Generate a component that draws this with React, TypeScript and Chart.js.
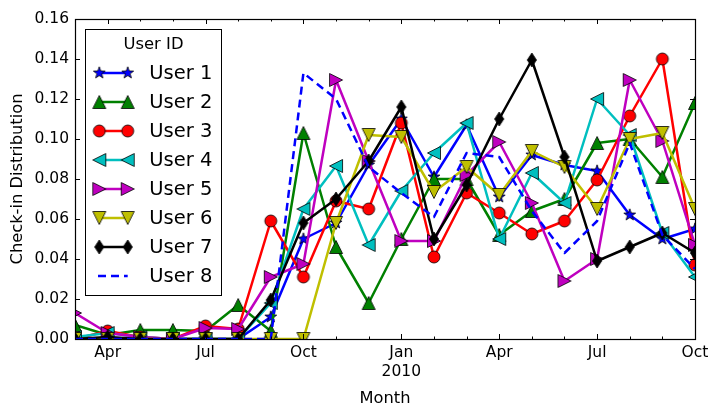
import React, { useEffect, useRef } from 'react';
import { Chart, registerables } from 'chart.js';

Chart.register(...registerables);

const FONT = "'DejaVu Sans', 'Liberation Sans', sans-serif";

// ---- data ----
const months = [
  'Mar 2009', 'Apr 2009', 'May 2009', 'Jun 2009', 'Jul 2009', 'Aug 2009', 'Sep 2009',
  'Oct 2009', 'Nov 2009', 'Dec 2009', 'Jan 2010', 'Feb 2010', 'Mar 2010', 'Apr 2010',
  'May 2010', 'Jun 2010', 'Jul 2010', 'Aug 2010', 'Sep 2010', 'Oct 2010',
];
const xTickLabels = [
  '', 'Apr', '', '', 'Jul', '', '', 'Oct', '', '', 'Jan\n2010', '', '', 'Apr', '', '', 'Jul', '', '', 'Oct',
];
const yTicks = [0, 0.02, 0.04, 0.06, 0.08, 0.1, 0.12, 0.14, 0.16];

const user1 = [0, 0, 0, 0, 0, 0, 0.011, 0.050, 0.058, 0.087, 0.110, 0.081, 0.107, 0.071, 0.092, 0.087, 0.084, 0.062, 0.050, 0.055];
const user2 = [0.007, 0.002, 0.0045, 0.0045, 0.004, 0.017, 0.004, 0.103, 0.046, 0.018, 0.050, 0.080, 0.080, 0.052, 0.064, 0.070, 0.098, 0.100, 0.081, 0.118];
const user3 = [0, 0.004, 0.001, 0, 0.0065, 0.005, 0.059, 0.031, 0.069, 0.065, 0.108, 0.041, 0.073, 0.063, 0.0525, 0.059, 0.0795, 0.1115, 0.140, 0.037];
const user4 = [0.001, 0.003, 0.001, 0, 0, 0, 0.018, 0.065, 0.0865, 0.047, 0.074, 0.093, 0.108, 0.050, 0.083, 0.068, 0.120, 0.102, 0.053, 0.031];
const user5 = [0.013, 0.003, 0.001, 0, 0.0055, 0.005, 0.031, 0.0375, 0.1295, 0.089, 0.049, 0.049, 0.082, 0.0985, 0.068, 0.029, 0.040, 0.1295, 0.099, 0.047];
const user6 = [0, 0, 0, 0, 0, 0, 0, 0, 0.058, 0.102, 0.101, 0.0735, 0.086, 0.072, 0.094, 0.086, 0.065, 0.100, 0.103, 0.065];
const user7 = [0, 0.001, 0, 0, 0, 0, 0.0195, 0.058, 0.070, 0.089, 0.116, 0.050, 0.077, 0.110, 0.1395, 0.091, 0.039, 0.046, 0.053, 0.043];
const user8 = [0, 0, 0, 0, 0, 0, 0, 0.133, 0.120, 0.086, 0.073, 0.061, 0.093, 0.091, 0.064, 0.043, 0.059, 0.098, 0.052, 0.035];

const seriesNames = ['User 1', 'User 2', 'User 3', 'User 4', 'User 5', 'User 6', 'User 7', 'User 8'];
const seriesValues = [user1, user2, user3, user4, user5, user6, user7, user8];
const seriesColors = ['#0000ff', '#008000', '#ff0000', '#00bfbf', '#bf00bf', '#bfbf00', '#000000', '#0000ff'];
const seriesMarkers = ['star', 'tri-up', 'circle', 'tri-left', 'tri-right', 'tri-down', 'diamond', 'none'];

// ---- markers ----
const MS = 20;
function makeMarker(shape: string, fill: string): HTMLCanvasElement | null {
  if (shape === 'none') return null;
  const c = document.createElement('canvas');
  c.width = MS;
  c.height = MS;
  const g = c.getContext('2d')!;
  g.translate(MS / 2, MS / 2);
  g.beginPath();
  const r = 6.5;
  if (shape === 'circle') {
    g.arc(0, 0, 6, 0, Math.PI * 2);
  } else if (shape === 'star') {
    const ro = 6.2, ri = 2.5;
    for (let k = 0; k < 10; k++) {
      const a = -Math.PI / 2 + (k * Math.PI) / 5;
      const rr = k % 2 === 0 ? ro : ri;
      const px = Math.cos(a) * rr, py = Math.sin(a) * rr;
      if (k === 0) g.moveTo(px, py); else g.lineTo(px, py);
    }
  } else if (shape === 'tri-up') {
    g.moveTo(0, -r); g.lineTo(-r, r); g.lineTo(r, r);
  } else if (shape === 'tri-down') {
    g.moveTo(0, r); g.lineTo(-r, -r); g.lineTo(r, -r);
  } else if (shape === 'tri-left') {
    g.moveTo(-r, 0); g.lineTo(r, -r); g.lineTo(r, r);
  } else if (shape === 'tri-right') {
    g.moveTo(r, 0); g.lineTo(-r, -r); g.lineTo(-r, r);
  } else if (shape === 'diamond') {
    g.moveTo(0, -7); g.lineTo(4.6, 0); g.lineTo(0, 7); g.lineTo(-4.6, 0);
  }
  g.closePath();
  g.fillStyle = fill;
  g.fill();
  g.lineWidth = 0.8;
  g.strokeStyle = '#000';
  g.stroke();
  return c;
}

export default function App() {
  const ref = useRef<HTMLCanvasElement | null>(null);

  useEffect(() => {
    document.body.style.margin = '0';
    const canvas = ref.current;
    if (!canvas) return;

    const markers = seriesMarkers.map((m, i) => makeMarker(m, seriesColors[i]));

    const datasets = seriesNames.map((name, i) => ({
      label: name,
      data: seriesValues[i],
      borderColor: seriesColors[i],
      backgroundColor: seriesColors[i],
      borderWidth: 2.5,
      borderDash: i === 7 ? [8, 5] : [],
      borderJoinStyle: 'round' as const,
      borderCapStyle: 'butt' as const,
      pointStyle: (markers[i] || 'circle') as any,
      pointRadius: markers[i] ? 6 : 0,
      pointHoverRadius: markers[i] ? 6 : 0,
      tension: 0,
      fill: false,
      clip: 0,
      order: 7 - i,
    }));

    const framePlugin = {
      id: 'frame',
      afterDatasetsDraw(chart: any) {
        const { ctx, chartArea: a, scales } = chart;
        ctx.save();
        ctx.strokeStyle = '#000';
        ctx.lineWidth = 1;
        ctx.beginPath();
        // x ticks
        for (let i = 0; i < months.length; i++) {
          const x = Math.round(scales.x.getPixelForValue(i)) + 0.5;
          const len = xTickLabels[i] ? 5 : 2.5;
          ctx.moveTo(x, a.bottom); ctx.lineTo(x, a.bottom - len);
          ctx.moveTo(x, a.top); ctx.lineTo(x, a.top + len);
        }
        // y ticks
        for (const t of yTicks) {
          const y = Math.round(scales.y.getPixelForValue(t)) + 0.5;
          ctx.moveTo(a.left, y); ctx.lineTo(a.left + 5, y);
          ctx.moveTo(a.right, y); ctx.lineTo(a.right - 5, y);
        }
        ctx.stroke();
        ctx.lineWidth = 1.2;
        ctx.strokeRect(Math.round(a.left) + 0.5, Math.round(a.top) + 0.5, Math.round(a.right - a.left), Math.round(a.bottom - a.top));
        ctx.restore();

        // legend
        ctx.save();
        const bx = 85.5, by = 29.5, bw = 136, bh = 266;
        ctx.fillStyle = '#fff';
        ctx.fillRect(bx, by, bw, bh);
        ctx.strokeStyle = '#000';
        ctx.lineWidth = 1;
        ctx.strokeRect(bx, by, bw, bh);
        ctx.fillStyle = '#000';
        ctx.textBaseline = 'middle';
        ctx.textAlign = 'center';
        ctx.font = `16.4px ${FONT}`;
        ctx.fillText('User ID', 153.5, 45);
        ctx.textAlign = 'left';
        ctx.font = `19.5px ${FONT}`;
        for (let i = 0; i < seriesNames.length; i++) {
          const y = 73 + 29 * i;
          const x1 = 99.3, x2 = 127.7;
          ctx.save();
          ctx.strokeStyle = seriesColors[i];
          ctx.lineWidth = 2.5;
          if (i === 7) ctx.setLineDash([8, 5]);
          ctx.beginPath();
          ctx.moveTo(i === 7 ? 98 : x1, y);
          ctx.lineTo(x2, y);
          ctx.stroke();
          ctx.restore();
          const m = markers[i];
          if (m) {
            ctx.drawImage(m, x1 - MS / 2, y - MS / 2);
            ctx.drawImage(m, x2 - MS / 2, y - MS / 2);
          }
          ctx.fillStyle = '#000';
          ctx.fillText(seriesNames[i], 149.3, y + 1);
        }
        ctx.restore();
      },
    };

    const chart = new Chart(canvas, {
      type: 'line',
      data: { labels: months, datasets: datasets as any },
      options: {
        responsive: false,
        animation: false,
        events: [],
        layout: { padding: { top: 19, right: 24, left: 0, bottom: 0 } },
        plugins: { legend: { display: false }, tooltip: { enabled: false } },
        scales: {
          x: {
            type: 'category',
            offset: false,
            grid: { display: false, drawTicks: false },
            border: { display: false },
            ticks: {
              autoSkip: false,
              maxRotation: 0,
              minRotation: 0,
              padding: 5,
              color: '#000',
              font: { family: FONT, size: 15.5 },
              callback: (_v: any, i: number) => {
                const l = xTickLabels[i];
                return l.includes('\n') ? l.split('\n') : l;
              },
            },
            title: {
              display: true,
              text: 'Month',
              color: '#000',
              font: { family: FONT, size: 16.3 },
              padding: { top: 0, bottom: 9 },
            },
            afterFit: (s: any) => { s.height = 79; },
          },
          y: {
            type: 'linear',
            min: 0,
            max: 0.16,
            grid: { display: false, drawTicks: false },
            border: { display: false },
            afterBuildTicks: (s: any) => { s.ticks = yTicks.map((v) => ({ value: v })); },
            ticks: {
              padding: 6,
              color: '#000',
              font: { family: FONT, size: 15.5 },
              callback: (v: any) => Number(v).toFixed(2),
            },
            title: {
              display: true,
              text: 'Check-in Distribution',
              color: '#000',
              font: { family: FONT, size: 16.3 },
              padding: { top: 8, bottom: 0 },
            },
            afterFit: (s: any) => { s.width = 75; },
          },
        },
      },
      plugins: [framePlugin],
    });

    return () => chart.destroy();
  }, []);

  return (
    <div style={{ width: 719, height: 418, position: 'relative', background: '#fff' }}>
      <canvas ref={ref} width={719} height={418} style={{ display: 'block', width: 719, height: 418 }} />
    </div>
  );
}
